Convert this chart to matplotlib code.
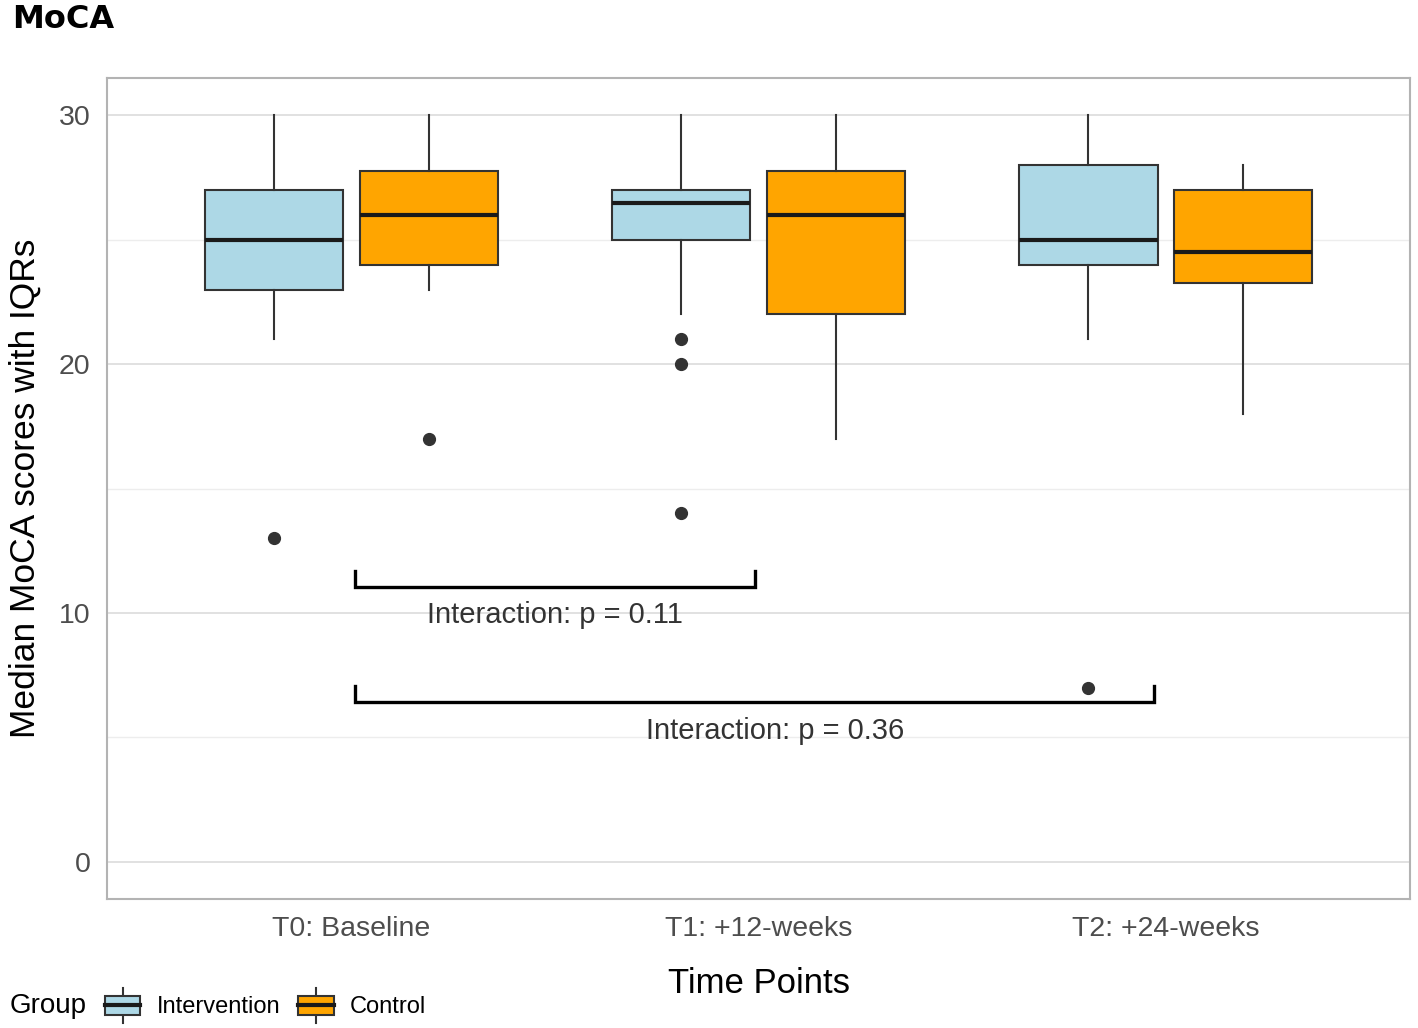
import matplotlib.pyplot as plt
import matplotlib.patches as mpatches
from matplotlib.legend_handler import HandlerBase
from matplotlib.lines import Line2D
import numpy as np

# values
time_points = ['T0: Baseline', 'T1: +12-weeks', 'T2: +24-weeks']
groups = ['Intervention', 'Control']
group_colors = ['#ADD8E6', '#FFA500']

# per group, per time point: lower whisker, Q1, median, Q3, upper whisker
interv_whislo = [21, 22, 21]
interv_q1 = [23, 25, 24]
interv_med = [25, 26.5, 25]
interv_q3 = [27, 27, 28]
interv_whishi = [30, 30, 30]
interv_fliers = [[13], [21, 20, 14], [7]]

ctrl_whislo = [23, 17, 18]
ctrl_q1 = [24, 22, 23.25]
ctrl_med = [26, 26, 24.5]
ctrl_q3 = [27.75, 27.75, 27]
ctrl_whishi = [30, 30, 28]
ctrl_fliers = [[17], [], []]

# interaction brackets: (from time point, to time point, y level, label)
brackets = [(1, 2, 11.05, 'Interaction: p = 0.11'),
            (1, 3, 6.4, 'Interaction: p = 0.36')]

plt.rcParams['font.family'] = ['Liberation Sans', 'DejaVu Sans']

fig = plt.figure(figsize=(14.18, 10.28), dpi=100)
ax = fig.add_axes([0.0755, 0.1255, 0.919, 0.7985])

dark = '#333333'
offset = 0.19
width = 0.34


def make_stats(lo, q1, med, q3, hi, fl):
    return [dict(whislo=a, q1=b, med=c, q3=d, whishi=e, fliers=f)
            for a, b, c, d, e, f in zip(lo, q1, med, q3, hi, fl)]


series = [
    make_stats(interv_whislo, interv_q1, interv_med, interv_q3, interv_whishi, interv_fliers),
    make_stats(ctrl_whislo, ctrl_q1, ctrl_med, ctrl_q3, ctrl_whishi, ctrl_fliers),
]
x = np.arange(1, len(time_points) + 1)
for k, stats in enumerate(series):
    pos = x + (-offset if k == 0 else offset)
    ax.bxp(stats, positions=pos, widths=width, patch_artist=True,
           showcaps=False,
           boxprops=dict(facecolor=group_colors[k], edgecolor=dark, linewidth=1.5),
           whiskerprops=dict(color=dark, linewidth=1.5),
           medianprops=dict(color='#1a1a1a', linewidth=3),
           flierprops=dict(marker='o', markerfacecolor=dark, markeredgecolor=dark,
                           markersize=8.5),
           zorder=3)

for x0, x1, yb, label in brackets:
    span = x1 - x0
    xa = x0 + 0.01
    xb = x1 - 0.01 - 0.02 * (span - 1)
    ax.plot([xa, xa, xb, xb], [yb + 0.65, yb, yb, yb + 0.65], color='black',
            linewidth=2.4, zorder=4, solid_joinstyle='miter')
    ax.text((xa + xb) / 2 + (0.05 if span > 1 else 0), yb - 1.15, label,
            ha='center', va='center', fontsize=21, color='#333333', zorder=5)

ax.set_xlim(0.4, 3.6)
ax.set_ylim(-1.5, 31.5)
ax.set_xticks(x)
ax.set_xticklabels(time_points)
ax.set_yticks([0, 10, 20, 30])
ax.set_yticks([5, 15, 25], minor=True)
ax.tick_params(axis='both', which='both', length=0, labelsize=20.5, labelcolor='#4D4D4D')
ax.tick_params(axis='x', pad=12)
ax.tick_params(axis='y', pad=12)
ax.grid(axis='y', which='major', color='#DEDEDE', linewidth=1.3)
ax.grid(axis='y', which='minor', color='#EDEDED', linewidth=1.0)
ax.set_axisbelow(True)
for s in ax.spines.values():
    s.set_color('#B3B3B3')
    s.set_linewidth(1.5)

ax.set_xlabel('Time Points', fontsize=25, labelpad=18)
ax.set_ylabel('Median MoCA scores with IQRs', fontsize=25.5, labelpad=12)

fig.text(0.0085, 0.981, 'MoCA', fontsize=23, fontweight='bold',
         family='DejaVu Sans', ha='left', va='center')


class BoxKeyHandler(HandlerBase):
    def create_artists(self, legend, orig_handle, xdescent, ydescent,
                       width, height, fontsize, trans):
        fc = orig_handle.get_facecolor()
        rect = mpatches.Rectangle((-xdescent, -ydescent + height * 0.05), width, height * 0.9,
                                  facecolor=fc, edgecolor=dark, linewidth=1.5,
                                  transform=trans)
        cx = -xdescent + width / 2
        top = Line2D([cx, cx], [-ydescent + height * 0.95, -ydescent + height * 1.3],
                     color=dark, linewidth=1.5, transform=trans)
        bot = Line2D([cx, cx], [-ydescent - height * 0.3, -ydescent + height * 0.05],
                     color=dark, linewidth=1.5, transform=trans)
        med = Line2D([-xdescent, -xdescent + width], [-ydescent + height / 2] * 2,
                     color='#1a1a1a', linewidth=3, transform=trans)
        return [bot, top, rect, med]


handles = [mpatches.Patch(facecolor=c) for c in group_colors]
leg = fig.legend(handles, groups, handler_map={mpatches.Patch: BoxKeyHandler()},
                 loc='center left', bbox_to_anchor=(0.074, 0.021), ncol=2,
                 frameon=False, fontsize=17, handlelength=1.5, handleheight=1.05,
                 handletextpad=0.7, columnspacing=0.75, borderaxespad=0, borderpad=0)
fig.text(0.007, 0.021, 'Group', fontsize=20, ha='left', va='center')

fig.savefig('out.png', dpi=100)
